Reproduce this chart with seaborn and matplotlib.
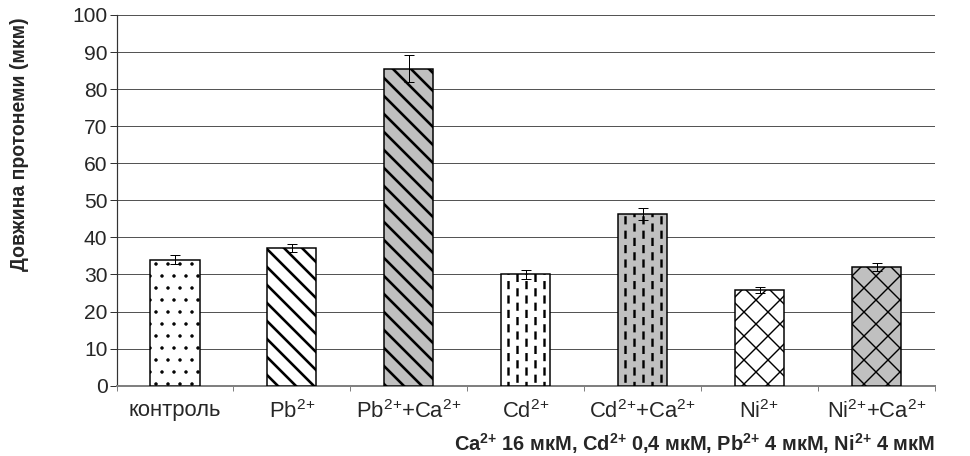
import matplotlib
matplotlib.use("Agg")
import matplotlib.pyplot as plt
from matplotlib.backend_bases import GraphicsContextBase
from matplotlib.path import Path
from matplotlib.ticker import MultipleLocator, FixedLocator
import seaborn as sns
import pandas as pd
import numpy as np

# Data
categories = ["контроль", r"Pb$^{2\!+}$", r"Pb$^{2\!+}\!$+Ca$^{2\!+}$", r"Cd$^{2\!+}$",
              r"Cd$^{2\!+}\!$+Ca$^{2\!+}$", r"Ni$^{2\!+}$", r"Ni$^{2\!+}\!$+Ca$^{2\!+}$"]
lengths = [34.0, 37.2, 85.5, 30.0, 46.3, 25.7, 32.0]
errors = [1.2, 1.0, 3.6, 1.2, 1.6, 0.8, 1.0]
fills = ["white", "white", "#c0c0c0", "white", "#c0c0c0", "white", "#c0c0c0"]
hatches = [".", "\\", "\\", "|", "|", "x", "x"]


# dashed vertical hatch for the Cd bars, denser diagonals for Pb bars
def dashed_vertical(ncols=8, nrows=5, dash=0.08):
    verts, codes = [], []
    for i in range(ncols):
        x = (i + 0.5) / ncols
        shift = 0.5 / nrows if i % 2 else 0.0
        for j in range(-1, nrows + 1):
            y0 = j / nrows + shift
            verts += [(x, y0), (x, y0 + dash)]
            codes += [Path.MOVETO, Path.LINETO]
    return Path(verts, codes)


_dashes = dashed_vertical()
_orig_hatch_path = GraphicsContextBase.get_hatch_path


def hatch_path(self, density=6.0):
    h = self.get_hatch()
    if h == "|":
        return _dashes
    if h and "\\" in h:
        density = 8.2
    return _orig_hatch_path(self, density)


GraphicsContextBase.get_hatch_path = hatch_path

sns.set_style("white")
plt.rcParams["font.family"] = ["Liberation Sans", "DejaVu Sans"]
plt.rcParams["mathtext.fontset"] = "custom"
plt.rcParams["mathtext.rm"] = "Liberation Sans"
plt.rcParams["mathtext.it"] = "Liberation Sans"
plt.rcParams["mathtext.bf"] = "Liberation Sans:bold"
plt.rcParams["hatch.linewidth"] = 2.6

df = pd.DataFrame({"group": categories, "length": lengths})

fig = plt.figure(figsize=(970 / 72, 456 / 72), dpi=72)
ax = fig.add_axes([116.5 / 970, 1 - 385.7 / 456, 818.5 / 970, 370.7 / 456])

sns.barplot(data=df, x="group", y="length", ax=ax, width=0.42,
            edgecolor="black", linewidth=1.5, errorbar=None, palette=fills,
            hue="group", legend=False, zorder=3)

for p, h, f in zip(ax.patches, hatches, fills):
    p.set_hatch(h)
    p.set_facecolor(f)
    if hasattr(p, "set_hatch_linewidth"):
        if h == ".":
            p.set_hatch_linewidth(1.0)
        elif h == "x":
            p.set_hatch_linewidth(1.4)
        elif h == "|":
            p.set_hatch_linewidth(2.4)

ax.errorbar(np.arange(len(lengths)), lengths, yerr=errors, fmt="none",
            ecolor="black", elinewidth=1, capsize=5, capthick=1, zorder=4)

ax.set_xlim(-0.5, len(categories) - 0.5)
ax.set_ylim(0, 100)
ax.yaxis.set_major_locator(MultipleLocator(10))
ax.yaxis.grid(True, color="#555555", linewidth=1)
ax.set_axisbelow(True)

for s in ["top", "right"]:
    ax.spines[s].set_visible(False)
ax.spines["left"].set_color("#333333")
ax.spines["left"].set_linewidth(1.2)
ax.spines["bottom"].set_color("#808080")
ax.spines["bottom"].set_linewidth(2)

ax.set_xticks(range(len(categories)))
ax.set_xticklabels(categories, fontsize=22)
ax.xaxis.set_minor_locator(FixedLocator(np.arange(-0.5, len(categories), 1)))
ax.tick_params(axis="x", which="major", length=0, pad=14)
ax.tick_params(axis="x", which="minor", length=5, width=1, color="#808080",
               direction="out", bottom=True)
ax.tick_params(axis="y", length=7, width=1, color="#333333", labelsize=21,
               left=True, pad=2)

ax.set_xlabel("")
ax.set_ylabel("Довжина протонеми (мкм)", fontsize=19.5, fontweight="bold")
ax.yaxis.set_label_coords(-0.107, 0.652)

fig.text(935 / 970, 1 - 444 / 456,
         r"Ca$^{\mathbf{2\!+}}\!$ 16 мкМ, Cd$^{\mathbf{2\!+}}\!$ 0,4 мкМ, "
         r"Pb$^{\mathbf{2\!+}}\!$ 4 мкМ, Ni$^{\mathbf{2\!+}}\!$ 4 мкМ",
         ha="right", va="center", fontsize=20, fontweight="bold")

fig.savefig("out.png", dpi=72)
